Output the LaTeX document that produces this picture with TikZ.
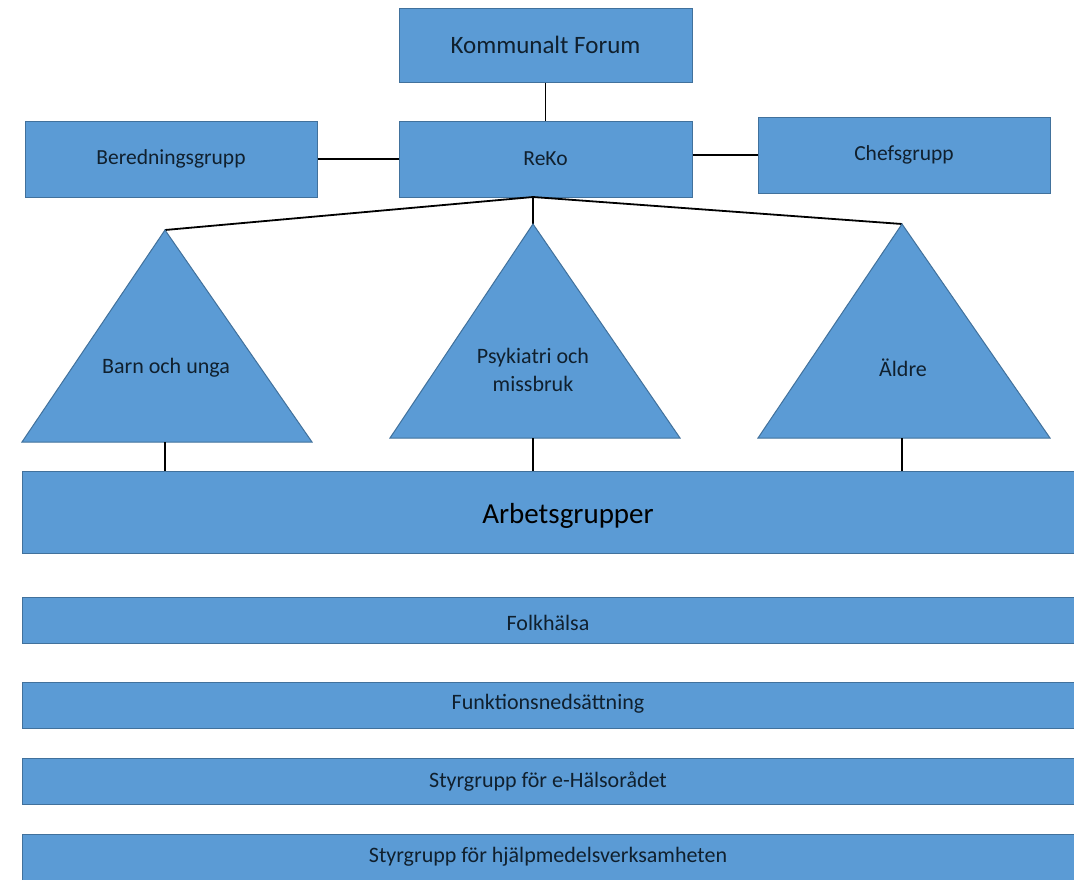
\documentclass[tikz,border=0pt]{standalone}
\usepackage{fontspec}
\setmainfont{Carlito}
\begin{document}
\begin{tikzpicture}[x=1pt,y=-1pt,
  box/.style={draw=boxline,fill=boxfill,line width=1pt,inner sep=0pt,font=\fontsize{21.5}{25}\selectfont},
  tri/.style={draw=boxline,fill=boxfill,line width=1pt},
  lbl/.style={inner sep=0pt,align=center,font=\fontsize{22}{28}\selectfont,text=textc},
  conn/.style={draw=black,line width=1.8pt}]
\definecolor{boxfill}{HTML}{5B9BD5}
\definecolor{boxline}{HTML}{41719C}
\definecolor{textc}{HTML}{10202E}
\useasboundingbox (0,0) rectangle (1074,879);
\fill[white] (0,0) rectangle (1074,879);
% boxes
\node[box,minimum width=293pt,minimum height=74pt,text=textc,font=\fontsize{25}{30}\selectfont] (kf) at (545.5,45) {Kommunalt Forum};
\node[box,minimum width=293pt,minimum height=76pt,text=textc] (reko) at (545.5,159) {ReKo};
\node[box,minimum width=292pt,minimum height=76pt,text=textc] (ber) at (171,159) {Beredningsgrupp};
\node[box,minimum width=292pt,minimum height=76pt,text=textc] (chef) at (904,155) {Chefsgrupp};
% connectors top
\draw[conn] (kf.south) -- (reko.north);
\draw[conn] (ber.east) -- (ber.east -| reko.west);
\draw[conn] (reko.east |- chef.west) -- (chef.west);
% triangles
\coordinate (t1a) at (165,230); \coordinate (t1b) at (165,442);
\coordinate (t2a) at (533,224); \coordinate (t2b) at (533,438);
\coordinate (t3a) at (902,224); \coordinate (t3b) at (902,438);
\coordinate (rs) at (533,197);
\draw[conn] (rs) -- (t1a);
\draw[conn] (rs) -- (t2a);
\draw[conn] (rs) -- (t3a);
\draw[tri] (t1a) -- (312,442) -- (22,442) -- cycle;
\draw[tri] (t2a) -- (680,438) -- (390,438) -- cycle;
\draw[tri] (t3a) -- (1050,438) -- (758,438) -- cycle;
\node[lbl] (l1) at (166,368) {Barn och unga};
\node[lbl] (l2) at (533,370) {Psykiatri och\\missbruk};
\node[lbl] (l3) at (903,368) {Äldre};
% work groups
\node[box,minimum width=1062pt,minimum height=82pt] (arb) at (553,512) {};
\node[inner sep=0pt,font=\fontsize{29}{34}\selectfont] (arbt) at (568,516) {Arbetsgrupper};
\draw[conn] (t1b) -- (t1b |- arb.north);
\draw[conn] (t2b) -- (t2b |- arb.north);
\draw[conn] (t3b) -- (t3b |- arb.north);
\node[box,minimum width=1062pt,minimum height=46pt] (fh) at (553,620) {};
\node[lbl] at (548,623) {Folkhälsa};
\node[box,minimum width=1062pt,minimum height=46pt] (fn) at (553,705) {};
\node[lbl] at (548,704) {Funktionsnedsättning};
\node[box,minimum width=1062pt,minimum height=46pt] (eh) at (553,781) {};
\node[lbl] at (548,782) {Styrgrupp för e-Hälsorådet};
\node[box,minimum width=1062pt,minimum height=60pt] (hm) at (553,864) {};
\node[lbl] at (548,857) {Styrgrupp för hjälpmedelsverksamheten};
\end{tikzpicture}
\end{document}
